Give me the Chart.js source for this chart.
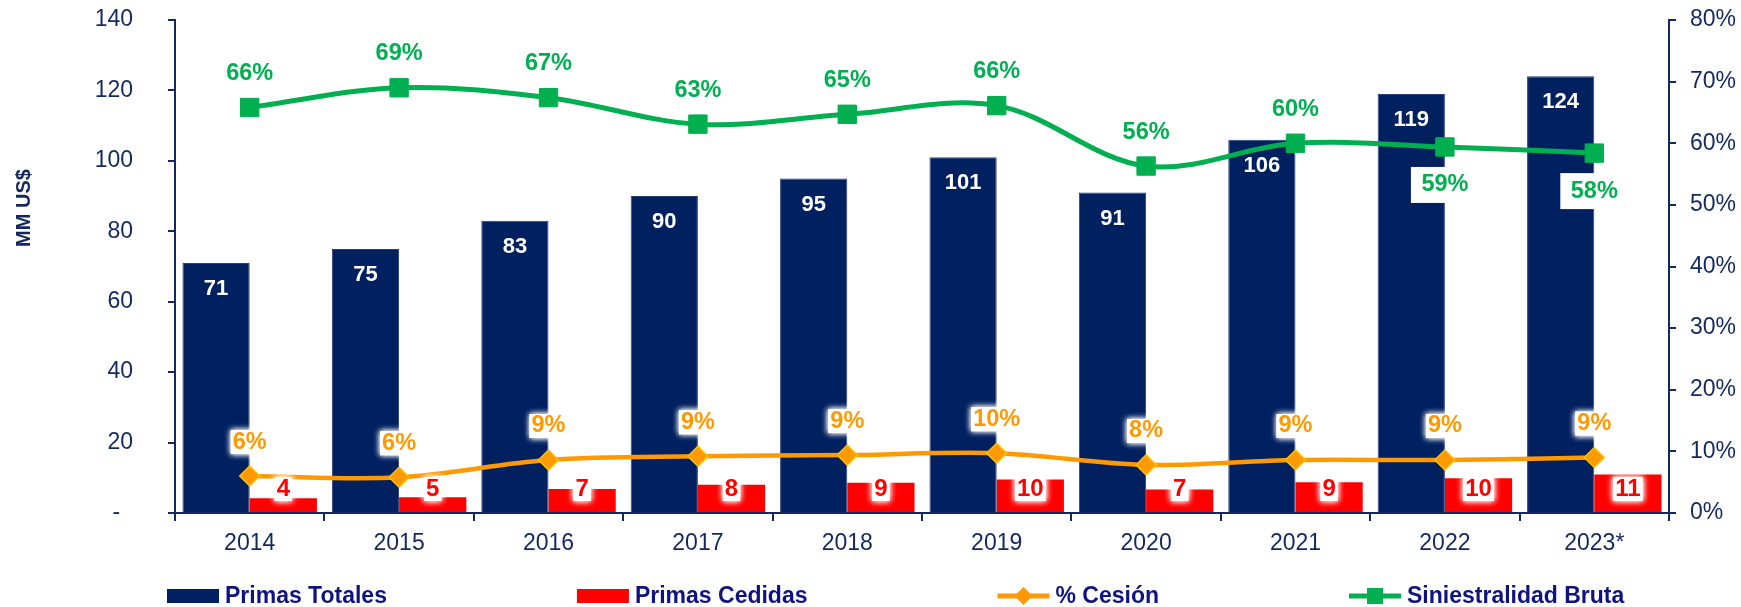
<!DOCTYPE html>
<html>
<head>
<meta charset="utf-8">
<title>Primas y Siniestralidad</title>
<script src="https://cdn.jsdelivr.net/npm/chart.js@4.4.0/dist/chart.umd.min.js"></script>
<style>
  html, body { margin: 0; padding: 0; background: #fff; }
</style>
</head>
<body>
<canvas id="chart" width="1741" height="607"></canvas>
<script>
// ---- data ----
const years = ['2014', '2015', '2016', '2017', '2018', '2019', '2020', '2021', '2022', '2023*'];
const primasTotales = [71, 75, 83, 90, 95, 101, 91, 106, 119, 124];
const primasCedidas = [4.2, 4.5, 6.8, 8.0, 8.6, 9.5, 6.7, 8.7, 9.9, 10.9];
const cesion = [0.060, 0.058, 0.086, 0.092, 0.094, 0.097, 0.078, 0.086, 0.086, 0.090];
const siniestralidad = [0.658, 0.690, 0.674, 0.631, 0.647, 0.661, 0.563, 0.600, 0.594, 0.584];
const leftTicks = { min: 0, max: 140, step: 20 };
const rightTicks = { min: 0, max: 0.8, step: 0.1 };

// ---- styles ----
const NAVY = '#002060';
const RED = '#FF0000';
const ORANGE = '#FF9900';
const GREEN = '#00B050';
const AXIS = '#13285F';
const LEGEND_TXT = '#0E1380';
const FONT = '"Liberation Sans", Arial, Helvetica, sans-serif';

// white soft box behind a label, then the label
function glowText(ctx, txt, x, y, color) {
  const w = ctx.measureText(txt).width;
  ctx.save();
  ctx.shadowColor = 'rgba(255,255,255,1)';
  ctx.shadowBlur = 6;
  ctx.fillStyle = 'rgba(255,255,255,0.95)';
  ctx.fillRect(x - w / 2 - 2, y - 12, w + 4, 24);
  ctx.fillRect(x - w / 2 - 2, y - 12, w + 4, 24);
  ctx.restore();
  ctx.fillStyle = color;
  ctx.fillText(txt, x, y);
}

const labelsPlugin = {
  id: 'valueLabels',
  afterDatasetsDraw(chart, args, opts) {
    const ctx = chart.ctx;
    ctx.save();
    ctx.textAlign = 'center';
    ctx.textBaseline = 'middle';

    // Primas Totales: white, inside top of bar
    ctx.font = 'bold 22px ' + FONT;
    chart.getDatasetMeta(0).data.forEach((bar, i) => {
      ctx.fillStyle = '#fff';
      ctx.fillText(String(Math.round(primasTotales[i])), bar.x, bar.y + 26);
    });

    // Primas Cedidas: red near base
    ctx.font = 'bold 24px ' + FONT;
    const base = chart.scales.y.getPixelForValue(0);
    chart.getDatasetMeta(1).data.forEach((bar, i) => {
      glowText(ctx, String(Math.round(primasCedidas[i])), bar.x, base - 24, RED);
    });

    // % Cesión above markers
    ctx.font = 'bold 23.5px ' + FONT;
    chart.getDatasetMeta(2).data.forEach((pt, i) => {
      glowText(ctx, Math.round(cesion[i] * 100) + '%', pt.x, pt.y - 34, ORANGE);
    });

    // Siniestralidad: above, except the last two which sit below in a white box
    chart.getDatasetMeta(3).data.forEach((pt, i) => {
      const txt = Math.round(siniestralidad[i] * 100) + '%';
      if (opts.below.includes(i)) {
        const y = pt.y + 38;
        ctx.fillStyle = '#fff';
        ctx.fillRect(pt.x - 34, y - 18, 68, 36);
        ctx.fillStyle = GREEN;
        ctx.fillText(txt, pt.x, y);
      } else {
        ctx.fillStyle = GREEN;
        ctx.fillText(txt, pt.x, pt.y - 34);
      }
    });
    ctx.restore();
  },
  afterDraw(chart) {
    const ctx = chart.ctx;
    ctx.save();

    // left axis title
    ctx.translate(24, 208);
    ctx.rotate(-Math.PI / 2);
    ctx.font = 'bold 20px ' + FONT;
    ctx.fillStyle = AXIS;
    ctx.textAlign = 'center';
    ctx.textBaseline = 'middle';
    ctx.fillText('MM US$', 0, 0);
    ctx.setTransform(1, 0, 0, 1, 0, 0);

    // legend
    let x = 167;
    const y = 596;
    ctx.font = 'bold 23px ' + FONT;
    ctx.textAlign = 'left';
    chart.data.datasets.forEach(ds => {
      if (ds.type === 'line') {
        ctx.strokeStyle = ds.borderColor;
        ctx.lineWidth = 5;
        ctx.beginPath();
        ctx.moveTo(x, y);
        ctx.lineTo(x + 52, y);
        ctx.stroke();
        ctx.fillStyle = ds.pointBackgroundColor;
        ctx.beginPath();
        if (ds.pointStyle === 'rectRot') {
          ctx.moveTo(x + 26, y - 9);
          ctx.lineTo(x + 35, y);
          ctx.lineTo(x + 26, y + 9);
          ctx.lineTo(x + 17, y);
          ctx.closePath();
        } else {
          ctx.rect(x + 18, y - 8, 16, 16);
        }
        ctx.fill();
      } else {
        ctx.fillStyle = ds.backgroundColor;
        ctx.fillRect(x, y - 7, 52, 14);
      }
      ctx.fillStyle = LEGEND_TXT;
      ctx.fillText(ds.label, x + 58, y + 1);
      x += 58 + ctx.measureText(ds.label).width + 190;
    });
    ctx.restore();
  }
};

const gridOpts = { drawOnChartArea: false, color: AXIS, lineWidth: 2, tickLength: 7 };
const tickFont = { family: FONT, size: 23 };

// fixed axis box; don't let tick padding push the plot area down
function fitY(width) {
  return s => {
    s.width = width;
    s.paddingTop = 0;
    s.paddingBottom = 0;
  };
}

new Chart(document.getElementById('chart'), {
  type: 'bar',
  data: {
    labels: years,
    datasets: [
      {
        label: 'Primas Totales',
        data: primasTotales,
        backgroundColor: NAVY,
        borderColor: '#2B3F7A',
        borderWidth: 1,
        yAxisID: 'y',
        order: 2,
        categoryPercentage: 0.9,
        barPercentage: 1.0
      },
      {
        label: 'Primas Cedidas',
        data: primasCedidas,
        backgroundColor: RED,
        yAxisID: 'y',
        order: 2,
        categoryPercentage: 0.9,
        barPercentage: 1.0
      },
      {
        type: 'line',
        label: '% Cesión',
        data: cesion,
        yAxisID: 'y1',
        borderColor: ORANGE,
        borderWidth: 4.5,
        tension: 0.35,
        pointStyle: 'rectRot',
        pointRadius: 10,
        pointBackgroundColor: ORANGE,
        pointBorderColor: '#FFC000',
        pointBorderWidth: 1.5,
        order: 1
      },
      {
        type: 'line',
        label: 'Siniestralidad Bruta',
        data: siniestralidad,
        yAxisID: 'y1',
        borderColor: GREEN,
        borderWidth: 5,
        tension: 0.35,
        pointStyle: 'rect',
        pointRadius: 13,
        pointBackgroundColor: GREEN,
        pointBorderColor: GREEN,
        pointBorderWidth: 1,
        order: 0
      }
    ]
  },
  options: {
    responsive: false,
    devicePixelRatio: 1,
    animation: false,
    layout: { padding: { top: 20, left: 0, right: 0, bottom: 0 } },
    plugins: {
      legend: { display: false },
      tooltip: { enabled: false },
      valueLabels: { below: [8, 9] }
    },
    scales: {
      x: {
        offset: true,
        grid: { offset: true, drawOnChartArea: false, color: AXIS, lineWidth: 2, tickLength: 8 },
        border: { color: AXIS, width: 2 },
        ticks: { color: AXIS, font: tickFont, padding: 9, maxRotation: 0 },
        afterFit: s => { s.height = 94; }
      },
      y: {
        position: 'left',
        min: leftTicks.min,
        max: leftTicks.max,
        grid: gridOpts,
        border: { color: AXIS, width: 2 },
        ticks: {
          stepSize: leftTicks.step,
          color: AXIS,
          font: tickFont,
          padding: 35,
          callback: v => (v === 0 ? '-  ' : v)
        },
        afterFit: fitY(175)
      },
      y1: {
        position: 'right',
        min: rightTicks.min,
        max: rightTicks.max,
        grid: gridOpts,
        border: { color: AXIS, width: 2 },
        ticks: {
          stepSize: rightTicks.step,
          color: AXIS,
          font: tickFont,
          padding: 14,
          callback: v => Math.round(v * 100) + '%'
        },
        afterFit: fitY(72)
      }
    }
  },
  plugins: [labelsPlugin]
});
</script>
</body>
</html>
